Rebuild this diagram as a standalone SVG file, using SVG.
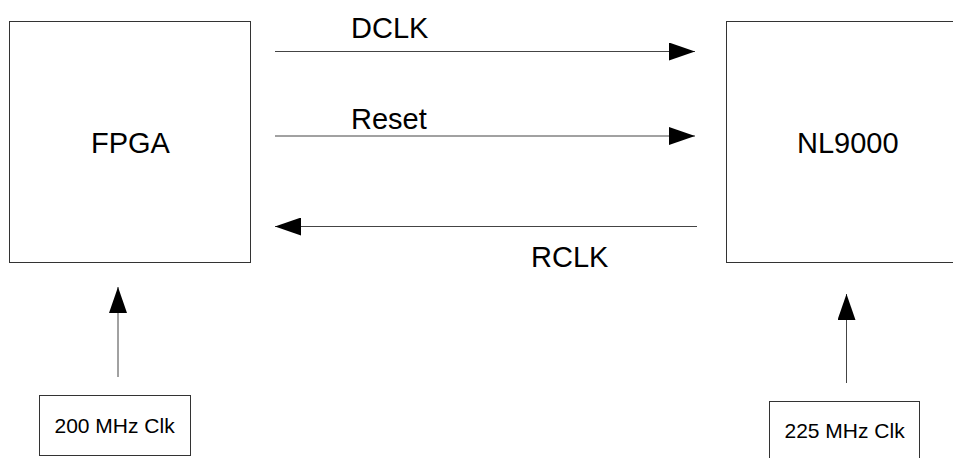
<svg xmlns="http://www.w3.org/2000/svg" width="953" height="458" viewBox="0 0 953 458">
  <style>
    .box { fill: #ffffff; stroke: #333333; stroke-width: 1; }
    .wire { stroke: #444444; stroke-width: 1; fill: none; marker-end: url(#head); }
    .big { font-family: "Liberation Sans", Arial, sans-serif; font-size: 29px; fill: #000000; }
    .small { font-family: "Liberation Sans", Arial, sans-serif; font-size: 21px; fill: #000000; }
  </style>
  <defs>
    <marker id="head" viewBox="0 0 26 18" refX="26" refY="9" markerWidth="26" markerHeight="18" markerUnits="userSpaceOnUse" orient="auto">
      <path d="M0,0 L26,9 L0,18 Z" fill="#000000"/>
    </marker>
  </defs>
  <rect width="953" height="458" fill="#ffffff"/>

  <g id="fpga">
    <rect class="box" x="9.5" y="21.5" width="241" height="241"/>
    <text class="big" x="91" y="152.5">FPGA</text>
  </g>

  <g id="nl9000">
    <rect class="box" x="726.5" y="21.5" width="241" height="241"/>
    <text class="big" x="797" y="152.5">NL9000</text>
  </g>

  <g id="clk200">
    <rect class="box" x="39.5" y="395.5" width="151" height="60"/>
    <text class="small" x="54.5" y="433">200 MHz Clk</text>
  </g>

  <g id="clk225">
    <rect class="box" x="769.5" y="401.5" width="150" height="60"/>
    <text class="small" x="784.5" y="438">225 MHz Clk</text>
  </g>

  <g id="connectors">
    <line class="wire" x1="275" y1="51.5" x2="695" y2="51.5"/>
    <text class="big" x="351" y="37.5">DCLK</text>
    <line class="wire" x1="275" y1="136" x2="695" y2="136"/>
    <text class="big" x="351" y="128.5">Reset</text>
    <line class="wire" x1="697" y1="226.5" x2="275" y2="226.5"/>
    <text class="big" x="531" y="266.5">RCLK</text>
    <line class="wire" x1="118" y1="377" x2="118" y2="287"/>
    <line class="wire" x1="846.5" y1="383" x2="846.5" y2="294"/>
  </g>
</svg>
